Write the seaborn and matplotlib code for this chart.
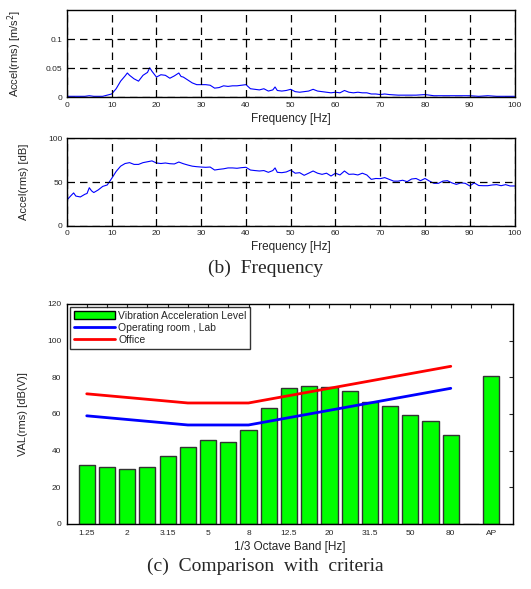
"""
vibration spectrum (b) and 1/3 octave comparison with criteria (c)
"""
import numpy as np
import pandas as pd
import seaborn as sns
import matplotlib.pyplot as plt
from matplotlib.patches import Patch
from matplotlib.lines import Line2D

sns.set_style("white")
plt.rcParams["font.family"] = "sans-serif"
plt.rcParams["font.sans-serif"] = ["Liberation Sans", "DejaVu Sans"]

# ---------------- data
# narrow band spectrum, linear acceleration [m/s2]
freq_lin = [0, 2, 4, 5, 6, 8, 9, 10, 11, 12, 13, 13.5, 14, 15, 16, 17, 18, 18.5,
            19, 20, 21, 22, 23, 24, 25, 25.5, 26, 27, 28, 29, 30, 31, 32, 33, 34,
            35, 36, 37, 38, 39, 40, 41, 42, 43, 44, 45, 46, 46.5, 47, 48, 49, 50,
            51, 52, 53, 54, 55, 56, 57, 58, 59, 60, 61, 62, 63, 64, 65, 66, 67,
            68, 69, 70, 71, 72, 74, 76, 78, 80, 82, 84, 86, 88, 90, 92, 94, 96,
            98, 100]
accel_lin = [0.002, 0.002, 0.002, 0.003, 0.002, 0.002, 0.004, 0.006, 0.015, 0.028,
             0.037, 0.042, 0.038, 0.032, 0.028, 0.038, 0.043, 0.051, 0.045, 0.035,
             0.039, 0.038, 0.033, 0.037, 0.042, 0.036, 0.035, 0.030, 0.025, 0.022,
             0.022, 0.022, 0.021, 0.016, 0.017, 0.020, 0.019, 0.020, 0.020, 0.021,
             0.022, 0.015, 0.014, 0.013, 0.015, 0.011, 0.013, 0.018, 0.012, 0.011,
             0.012, 0.014, 0.010, 0.009, 0.010, 0.011, 0.014, 0.011, 0.010, 0.009,
             0.008, 0.009, 0.008, 0.012, 0.009, 0.008, 0.009, 0.008, 0.008, 0.006,
             0.006, 0.005, 0.006, 0.005, 0.004, 0.004, 0.004, 0.005, 0.003, 0.003,
             0.003, 0.003, 0.003, 0.002, 0.003, 0.002, 0.002, 0.002]

# narrow band spectrum in dB
freq_db = [0, 1, 1.5, 2, 3, 4, 4.5, 5, 5.5, 6, 7, 8, 9, 10, 11, 12, 13, 14, 15,
           16, 17, 18, 19, 20, 21, 22, 23, 24, 25, 26, 27, 28, 29, 30, 31, 32, 33,
           34, 35, 36, 37, 38, 39, 40, 41, 42, 43, 44, 45, 46, 46.5, 47, 48, 49,
           50, 51, 52, 53, 54, 55, 56, 57, 58, 59, 60, 61, 62, 63, 64, 65, 66, 67,
           68, 69, 70, 71, 72, 73, 74, 75, 76, 77, 78, 79, 80, 81, 82, 83, 84, 85,
           86, 87, 88, 89, 90, 91, 92, 93, 94, 95, 96, 97, 98, 99, 100]
accel_db = [29.5, 35, 37.6, 34, 33, 36, 37, 43.5, 40, 38, 41, 45, 46.6, 54, 62, 68,
            71, 72, 70, 70, 72, 73, 74, 71.6, 71, 71.6, 70.8, 70.5, 72.7, 70.8,
            69.3, 68, 67.4, 67, 66.7, 67, 63.6, 64.4, 65, 66, 66, 65.6, 66.3, 66.7,
            63.6, 63, 62.5, 63, 61, 63, 66, 61, 60.6, 61.4, 63.6, 60, 60.6, 57.6,
            60, 62.5, 60, 58.7, 60, 56.8, 60, 58, 62.5, 58.7, 59, 58, 60, 58, 53,
            54, 53.8, 55, 53, 51, 51, 52, 50.4, 53.4, 54, 51.5, 54, 51, 48.5, 48.5,
            51, 51.5, 49, 47.3, 49, 48.5, 45.5, 49, 46, 45.8, 45.8, 46.6, 47, 45.8,
            47, 45.5, 45.5]

# 1/3 octave band levels, one empty slot before the overall value (AP)
bands = ["1.25", "1.6", "2", "2.5", "3.15", "4", "5", "6.3", "8", "10", "12.5",
         "16", "20", "25", "31.5", "40", "50", "63", "80", "", "AP"]
val_db = [32, 31, 30, 31, 37, 42, 46, 44.5, 51, 63, 74.4, 75, 74.5, 72.4, 66.5,
          64.6, 59.5, 56, 48.4, 0, 80.7]
crit_lab = [59, 58, 57, 56, 55, 54, 54, 54, 54, 56, 58, 60, 62, 64, 66, 68, 70,
            72, 74]
crit_office = [71, 70, 69, 68, 67, 66, 66, 66, 66, 68, 70, 72, 74, 76, 78, 80, 82,
               84, 86]

TICK_FS = 6
LABEL_FS = 8.5
GRID = dict(color="k", linestyle=(0, (6, 4)), linewidth=0.9)

fig = plt.figure(figsize=(5.31, 5.89), dpi=100)
ax1 = fig.add_axes([0.126, 0.8345, 0.843, 0.1485])
ax2 = fig.add_axes([0.126, 0.6163, 0.843, 0.1494])
ax3 = fig.add_axes([0.126, 0.1104, 0.841, 0.3735])

for ax in (ax1, ax2, ax3):
    for sp in ax.spines.values():
        sp.set_color("k")
        sp.set_linewidth(1.0)

# ---------------- (b) frequency
sns.lineplot(x=freq_lin, y=accel_lin, ax=ax1, color="#0000ff", linewidth=0.8)
ax1.set_xlim(0, 100)
ax1.set_ylim(0, 0.15)
ax1.set_yticks([0, 0.05, 0.1])
ax1.set_yticklabels(["0", "0.05", "0.1"])
ax1.set_ylabel("Accel(rms) [m/s$^2$]", fontsize=LABEL_FS - 0.5, labelpad=16)

sns.lineplot(x=freq_db, y=accel_db, ax=ax2, color="#0000ff", linewidth=0.8)
ax2.set_xlim(0, 100)
ax2.set_ylim(0, 100)
ax2.set_yticks([0, 50, 100])
ax2.set_ylabel("Accel(rms) [dB]", fontsize=LABEL_FS - 0.5, labelpad=14)

for ax in (ax1, ax2):
    ax.set_xticks(range(0, 101, 10))
    ax.tick_params(labelsize=TICK_FS, length=0, pad=3)
    ax.set_xlabel("Frequency [Hz]", fontsize=LABEL_FS, labelpad=3)
    ax.grid(True, **GRID)
    ax.set_axisbelow(False)

fig.text(0.5, 1 - 268 / 589, "(b)  Frequency", ha="center", va="center",
         fontsize=14, family="Liberation Serif")

# ---------------- (c) comparison with criteria
df = pd.DataFrame({"band": bands, "val": val_db})
sns.barplot(data=df, x="band", y="val", order=bands, ax=ax3, color="#00ff00",
            saturation=1, width=0.8, edgecolor="#333333", linewidth=1.0)
pos = np.arange(len(crit_lab))
sns.lineplot(x=pos, y=crit_office, ax=ax3, color="#ff0000", linewidth=2, zorder=5)
sns.lineplot(x=pos, y=crit_lab, ax=ax3, color="#0000ff", linewidth=2, zorder=5)

ax3.set_xlim(-0.98, 21.1)
ax3.set_ylim(0, 120)
ax3.set_yticks(range(0, 121, 20))
ax3.set_xticks(range(len(bands)))
ax3.set_xticklabels([b if i % 2 == 0 else "" for i, b in enumerate(bands)])
ax3.tick_params(axis="both", direction="in", top=True, right=True,
                labelsize=TICK_FS, length=3, width=0.8, pad=4)
ax3.tick_params(axis="x", bottom=False)
ax3.set_xlabel("1/3 Octave Band [Hz]", fontsize=LABEL_FS, labelpad=3)
ax3.set_ylabel("VAL(rms) [dB(V)]", fontsize=LABEL_FS - 0.5, labelpad=14)

handles = [Patch(facecolor="#00ff00", edgecolor="k", linewidth=1.0),
           Line2D([], [], color="#0000ff", linewidth=2),
           Line2D([], [], color="#ff0000", linewidth=2)]
labels = ["Vibration Acceleration Level", "Operating room , Lab", "Office"]
leg = ax3.legend(handles, labels, loc="upper left", fontsize=7.5,
                 frameon=True, fancybox=False, handlelength=4.0, handleheight=0.8,
                 handletextpad=0.3, borderpad=0.35, labelspacing=0.2,
                 borderaxespad=0.3)
leg.get_frame().set_edgecolor("k")
leg.get_frame().set_linewidth(1.0)
leg.set_zorder(10)

fig.text(0.5, 1 - 566 / 589, "(c)  Comparison  with  criteria", ha="center",
         va="center", fontsize=14, family="Liberation Serif")

plt.savefig("out.png", dpi=100)
plt.close()
